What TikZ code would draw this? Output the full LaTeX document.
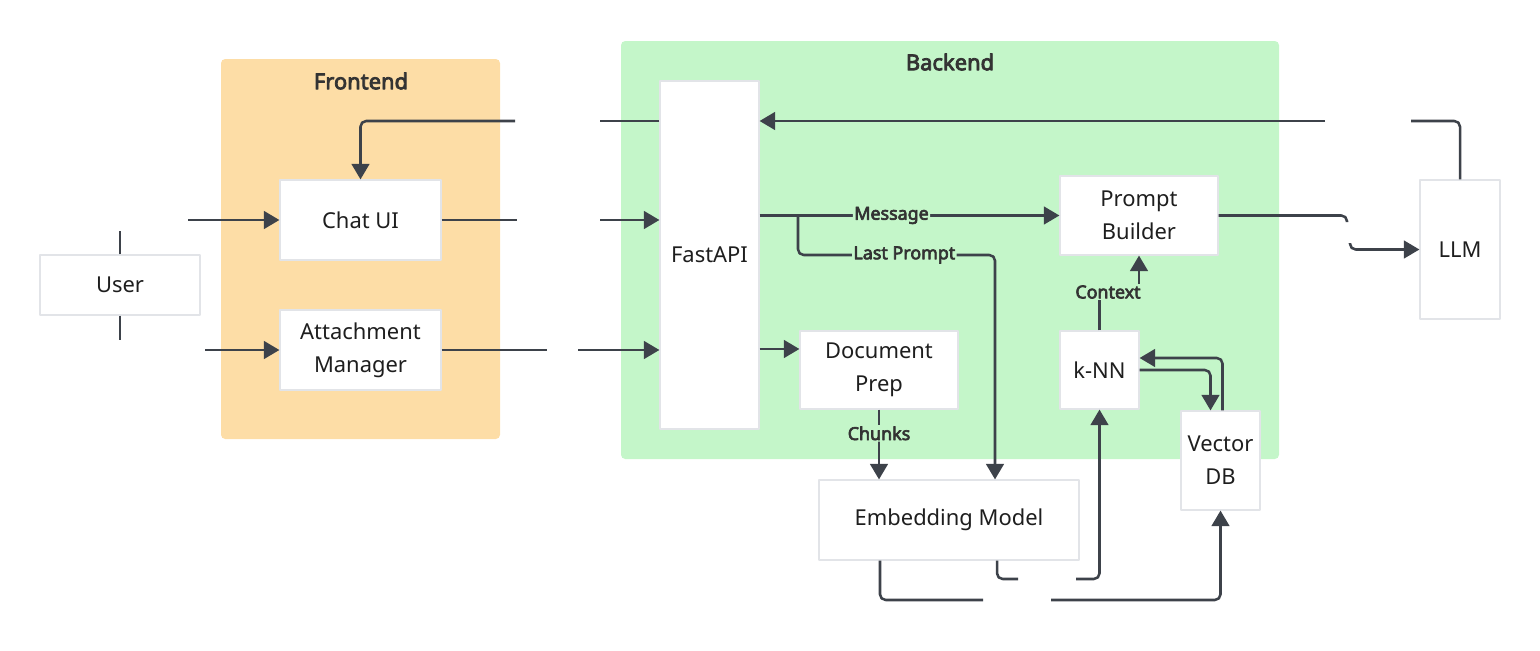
\documentclass[tikz,border=0pt]{standalone}
\usepackage{fontspec}
\setmainfont{Noto Sans}[AutoFakeBold=3.6]
\usetikzlibrary{arrows.meta,calc}
\definecolor{ink}{HTML}{1E1E1E}
\definecolor{heading}{HTML}{333333}
\definecolor{slate}{HTML}{3D424A}
\definecolor{frame}{HTML}{E2E4E8}
\definecolor{front}{HTML}{FDDDA6}
\definecolor{back}{HTML}{C4F6C9}

\begin{document}
\begin{tikzpicture}[
  x=.025cm,y=-.025cm,
  line join=round,
  >={Triangle[length=11pt,width=12.5pt]},
  box/.style={draw=frame, line width=.8pt, fill=white, text=ink, align=center,
    inner sep=0pt, font=\fontsize{15.6}{23.5}\selectfont},
  group/.style={rounded corners=3pt},
  title/.style={font=\bfseries\fontsize{15.6}{18}\selectfont, text=heading},
  wire/.style={draw=slate, line width=1.8pt, rounded corners=4pt},
  flow/.style={wire, ->},
  tag/.style={font=\bfseries\fontsize{12.7}{15}\selectfont, text=heading, fill=back, inner sep=1pt}
]
\useasboundingbox (0,0) rectangle (1540,651);

% swimlanes
\fill[front,group] (221,59) rectangle (500,439);
\node[title] (fronttitle) at (361,81) {Frontend};
\fill[back,group] (621,41) rectangle (1279,459);
\node[title] (backtitle) at (950,62) {Backend};

% components
\node[box,minimum width=4cm,minimum height=1.5cm] (user) at (120,285) {User};
\node[box,minimum width=4.025cm,minimum height=2cm] (chatui) at (360.5,220) {Chat UI};
\node[box,minimum width=4.025cm,minimum height=2cm] (attach) at (360.5,350) {Attachment\\Manager};
\node[box,minimum width=2.475cm,minimum height=8.7cm] (fastapi) at (709.5,255) {FastAPI};
\node[box,minimum width=3.95cm,minimum height=1.975cm] (prompt) at (1139,215.5) {Prompt\\Builder};
\node[box,minimum width=3.95cm,minimum height=1.95cm] (docprep) at (879,370) {Document\\Prep};
\node[box,minimum width=1.975cm,minimum height=1.95cm] (knn) at (1099.5,370) {k-NN};
\node[box,minimum width=1.975cm,minimum height=2.475cm] (vectordb) at (1220.5,460.5) {Vector\\DB};
\node[box,minimum width=6.5cm,minimum height=2cm] (embed) at (949,520) {Embedding Model};
\node[box,minimum width=2cm,minimum height=3.475cm] (llm) at (1460,249.5) {LLM};

% free ends of the broken connectors
\coordinate (u1) at (120,231);
\coordinate (u2) at (188,220);
\coordinate (u3) at (120,340);
\coordinate (u4) at (205,350);
\coordinate (c1) at (517,220);
\coordinate (c2) at (600,220);
\coordinate (a1) at (547,350);
\coordinate (a2) at (578,350);
\coordinate (f1) at (600,121);
\coordinate (f2) at (515,121);
\coordinate (l1) at (1411,121);
\coordinate (l2) at (1325,121);
\coordinate (p1) at (1347,222);
\coordinate (p2) at (1350,243);
\coordinate (split) at (798,215.5);
\coordinate (lpturn) at (995,255);
\coordinate (e1) at (1018,579);
\coordinate (e2) at (1076,579);
\coordinate (e3) at (983,600);
\coordinate (e4) at (1051,600);

% user to frontend
\draw[wire] (user.north) -- (u1);
\draw[flow] (u2) -- (chatui.west);
\draw[wire] (user.south) -- (u3);
\draw[flow] (u4) -- (attach.west);

% frontend to backend
\draw[wire] (chatui.east) -- (c1);
\draw[flow] (c2) -- (c2 -| fastapi.west);
\draw[wire] (attach.east) -- (a1);
\draw[flow] (a2) -- (a2 -| fastapi.west);
\draw[wire] (f1 -| fastapi.west) -- (f1);
\draw[flow] (f2) -| (chatui.north);

% backend flows
\draw[flow] (prompt.west -| fastapi.east) -- (prompt.west) node[tag,pos=.44] {Message};
\draw[flow] (split) |- node[tag,pos=.77] {Last Prompt} (lpturn) -- (lpturn |- embed.north);
\draw[flow] ([yshift=.525cm]docprep.west -| fastapi.east) -- ([yshift=.525cm]docprep.west);
\draw[flow] (docprep.south) -- (docprep.south |- embed.north) node[tag,pos=.34] {Chunks};
\node[tag] (ctx) at (1108,292) {Context};
\draw[wire] (knn.north) -- (knn.north |- ctx.south);
\draw[flow] (prompt.south |- ctx.north) -- (prompt.south);
\draw[flow] (knn.east) -| ([xshift=-.25cm]vectordb.north);
\draw[flow] ([xshift=.05cm]vectordb.north) |- ([yshift=.3cm]knn.east);

% embeddings out
\draw[wire] ([xshift=1.2cm]embed.south) |- (e1);
\draw[flow] (e2) -| (knn.south);
\draw[wire] ([xshift=-1.725cm]embed.south) |- (e3);
\draw[flow] (e4) -| (vectordb.south);

% model round trip
\draw[wire] (prompt.east) -| (p1);
\draw[flow] (p2) |- (llm.west);
\draw[wire] (llm.north) |- (l1);
\draw[flow] (l2) -- (l2 -| fastapi.east);

\end{tikzpicture}
\end{document}
